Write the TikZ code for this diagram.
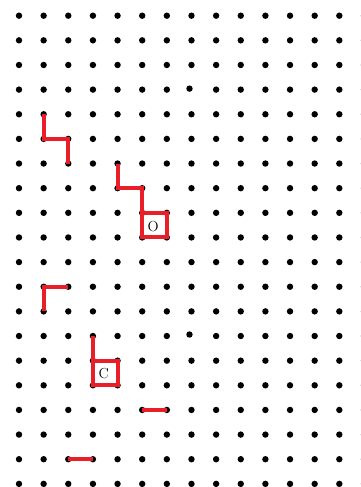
\documentclass[tikz,border=0pt]{standalone}
\begin{document}
\begin{tikzpicture}[x=1pt,y=-1pt,
  griddot/.style={fill=black},
  redpath/.style={draw=redline,line width=4pt,line join=miter},
  lbl/.style={inner sep=0pt,font=\fontsize{14.5}{14.5}\selectfont}]
\definecolor{redline}{RGB}{232,30,40}
\useasboundingbox (0,0) rectangle (361,487);
% grid coordinates
\foreach \i in {0,...,14}{
  \foreach \j in {0,...,19}{
    \coordinate (p-\i-\j) at ({19+24.64*\i},{15.7+24.64*\j});
  }
}
% dots
\foreach \i in {0,...,14}{
  \foreach \j in {0,...,19}{
    \ifnum\i=7 \ifnum\j=3 \else\ifnum\j=13 \else
      \fill[griddot] (p-\i-\j) circle (3.2pt);
    \fi\fi
    \else
      \fill[griddot] (p-\i-\j) circle (3.2pt);
    \fi
  }
}
\fill[griddot] ([shift={(-2,-1)}]p-7-3) circle (3.2pt);
\fill[griddot] ([shift={(-2,-1.5)}]p-7-13) circle (3.2pt);
% red paths
\draw[redpath] (p-1-4) -- (p-1-5) -- (p-2-5) -- (p-2-6);
\draw[redpath] (p-4-6) -- (p-4-7) -- (p-5-7) -- (p-5-8) -- (p-6-8) -- (p-6-9) -- (p-5-9) -- (p-5-8);
\draw[redpath] (p-2-11) -- (p-1-11) -- (p-1-12);
\draw[redpath] (p-3-13) -- (p-3-14) -- (p-4-14) -- (p-4-15) -- (p-3-15) -- (p-3-14);
\draw[redpath] (p-5-16) -- (p-6-16);
\draw[redpath] (p-2-18) -- (p-3-18);
% labels
\node[lbl] (O) at (153.2,226.2) {O};
\node[lbl] (C) at (103.8,374) {C};
\end{tikzpicture}
\end{document}
